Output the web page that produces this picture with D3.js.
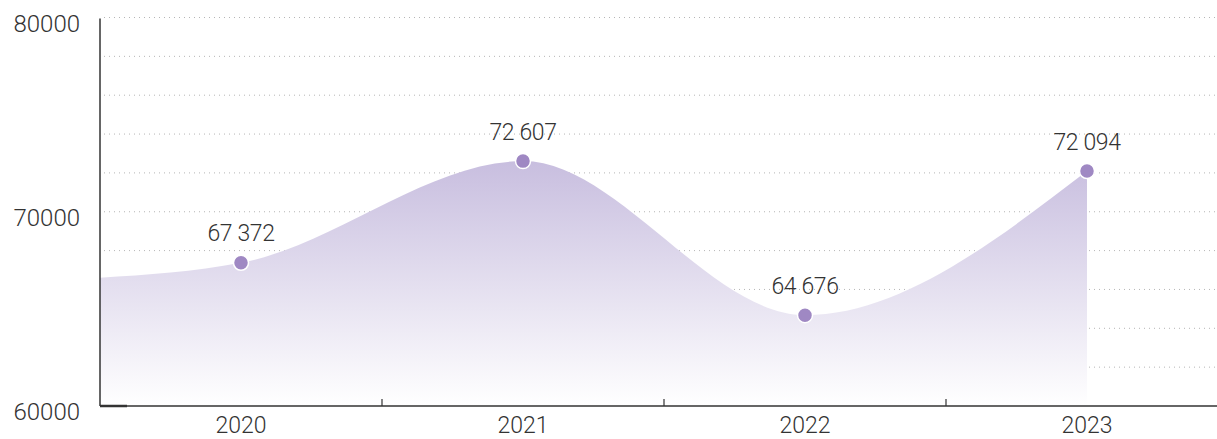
<!DOCTYPE html>
<html>
<head>
<meta charset="utf-8">
<script src="https://cdn.jsdelivr.net/npm/d3@7/dist/d3.min.js"></script>
<style>
  html, body { margin: 0; padding: 0; background: #fff; }
  svg { display: block; font-family: "Roboto", sans-serif; font-weight: 300; }
</style>
</head>
<body>
<div id="chart"></div>
<script>
'use strict';

// data
var years = ['2020', '2021', '2022', '2023'];
var values = [67372, 72607, 64676, 72094];
var edgeValue = 66600; // where the area meets the left axis
var yTicks = [60000, 70000, 80000];
var gridValues = d3.range(62000, 80001, 2000);

var W = 1217, H = 439;
var left = 100, bottom = 406, topY = 17.5;

var svg = d3.select('#chart').append('svg')
    .attr('width', W)
    .attr('height', H);

var x = d3.scaleBand().domain(years).range([left, left + 4 * 282]).padding(0);
var y = d3.scaleLinear().domain([60000, 80000]).range([bottom, topY]);

function cx(d) { return x(d) + x.bandwidth() / 2; }

var defs = svg.append('defs');
var grad = defs.append('linearGradient')
    .attr('id', 'fade')
    .attr('gradientUnits', 'userSpaceOnUse')
    .attr('x1', 0).attr('x2', 0)
    .attr('y1', y(d3.max(values))).attr('y2', bottom);
grad.append('stop').attr('offset', '0%').attr('stop-color', '#c8bedf');
grad.append('stop').attr('offset', '100%').attr('stop-color', '#ffffff');

// dotted grid
svg.append('g').selectAll('line')
    .data(gridValues)
    .enter()
    .append('line')
    .attr('x1', left + 4)
    .attr('x2', W)
    .attr('y1', function(d) { return y(d); })
    .attr('y2', function(d) { return y(d); })
    .attr('stroke', '#b5b5b5')
    .attr('stroke-width', 1)
    .attr('stroke-dasharray', '1,4');

// area
var pts = [{ px: left, v: edgeValue }].concat(values.map(function(v, i) {
    return { px: cx(years[i]), v: v };
}));

var area = d3.area()
    .x(function(d) { return d.px; })
    .y0(bottom)
    .y1(function(d) { return y(d.v); })
    .curve(d3.curveMonotoneX);

svg.append('path')
    .datum(pts)
    .attr('d', area)
    .attr('fill', 'url(#fade)');

// axes
svg.append('line')
    .attr('x1', left).attr('x2', W)
    .attr('y1', bottom).attr('y2', bottom)
    .attr('stroke', '#333').attr('stroke-width', 1.5);
svg.append('line')
    .attr('x1', left).attr('x2', left)
    .attr('y1', topY + 1).attr('y2', bottom)
    .attr('stroke', '#333').attr('stroke-width', 1.5);
svg.append('line')
    .attr('x1', left).attr('x2', left + 27)
    .attr('y1', bottom).attr('y2', bottom)
    .attr('stroke', '#333').attr('stroke-width', 2.5);

svg.append('g').selectAll('line')
    .data(years.slice(1))
    .enter()
    .append('line')
    .attr('x1', function(d) { return x(d); })
    .attr('x2', function(d) { return x(d); })
    .attr('y1', bottom)
    .attr('y2', bottom - 7)
    .attr('stroke', '#333').attr('stroke-width', 1.2);

svg.append('g').selectAll('text')
    .data(yTicks)
    .enter()
    .append('text')
    .attr('x', 80)
    .attr('y', function(d) { return y(d) + 14; })
    .attr('text-anchor', 'end')
    .attr('font-size', 24)
    .attr('fill', '#333')
    .text(function(d) { return d; });

svg.append('g').selectAll('text')
    .data(years)
    .enter()
    .append('text')
    .attr('x', cx)
    .attr('y', bottom + 27)
    .attr('text-anchor', 'middle')
    .attr('font-size', 23)
    .attr('fill', '#333')
    .text(function(d) { return d; });

// points and labels
var fmt = function(v) { return d3.format(',')(v).replace(',', ' '); };

svg.append('g').selectAll('circle')
    .data(values)
    .enter()
    .append('circle')
    .attr('cx', function(d, i) { return cx(years[i]); })
    .attr('cy', function(d) { return y(d); })
    .attr('r', 7.5)
    .attr('fill', '#9f88c3')
    .attr('stroke', '#fff')
    .attr('stroke-width', 1.5);

svg.append('g').selectAll('text')
    .data(values)
    .enter()
    .append('text')
    .attr('x', function(d, i) { return cx(years[i]); })
    .attr('y', function(d) { return y(d) - 21.5; })
    .attr('text-anchor', 'middle')
    .attr('font-size', 23)
    .attr('letter-spacing', -0.4)
    .attr('fill', '#333')
    .text(fmt);
</script>
</body>
</html>
